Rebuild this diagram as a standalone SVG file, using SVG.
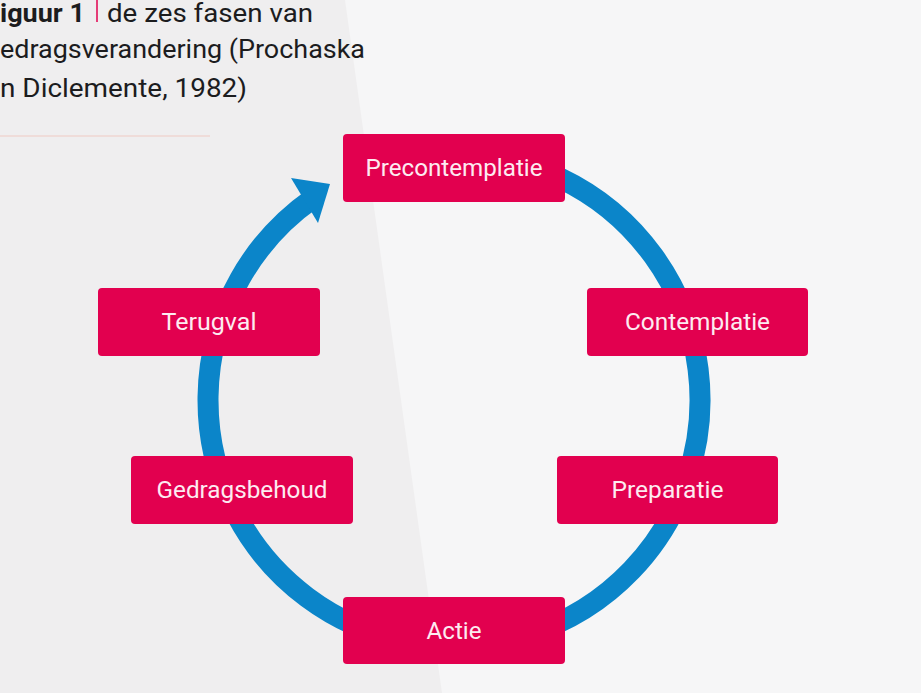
<svg xmlns="http://www.w3.org/2000/svg" width="921" height="693" viewBox="0 0 921 693">
  <style>
    .box { fill: #e2004f; }
    .lbl { font-family: "Roboto", "Liberation Sans", sans-serif; font-size: 24px; fill: #fdebf1; text-anchor: middle; }
    .title { font-family: "Roboto", "Liberation Sans", sans-serif; font-size: 25px; fill: #1c1c1e; }
    .ring { fill: none; stroke: #0b85c9; stroke-width: 21; }
  </style>
  <rect x="0" y="0" width="921" height="693" fill="#f6f6f7"/>
  <polygon points="0,0 345,0 442,693 0,693" fill="#efeeef"/>

  <g id="title">
    <text class="title" x="0" y="22" font-size="23" font-weight="bold" textLength="85" lengthAdjust="spacingAndGlyphs">iguur 1</text>
    <line x1="97" y1="0" x2="97" y2="22" stroke="#e2004f" stroke-width="1.5"/>
    <text class="title" x="107" y="22" font-size="23" textLength="206" lengthAdjust="spacingAndGlyphs">de zes fasen van</text>
    <text class="title" x="0" y="58" textLength="365" lengthAdjust="spacingAndGlyphs">edragsverandering (Prochaska</text>
    <text class="title" x="0" y="97" textLength="247" lengthAdjust="spacingAndGlyphs">n Diclemente, 1982)</text>
    <line x1="0" y1="136" x2="210" y2="136" stroke="#f0c9c4" stroke-width="1.2"/>
  </g>

  <g id="connectors">
    <path class="ring" d="M 454 154 A 246 246 0 1 1 312.9 198.5"/>
    <polygon points="330,184 291,178 318,223" fill="#0b85c9"/>
  </g>

  <g id="precontemplatie">
    <rect class="box" x="343" y="134" width="222" height="68" rx="4"/>
    <text class="lbl" x="454" y="176" textLength="177" lengthAdjust="spacingAndGlyphs">Precontemplatie</text>
  </g>
  <g id="contemplatie">
    <rect class="box" x="587" y="288" width="221" height="68" rx="4"/>
    <text class="lbl" x="697.5" y="330" textLength="145" lengthAdjust="spacingAndGlyphs">Contemplatie</text>
  </g>
  <g id="preparatie">
    <rect class="box" x="557" y="456" width="221" height="68" rx="4"/>
    <text class="lbl" x="667.5" y="498" textLength="112" lengthAdjust="spacingAndGlyphs">Preparatie</text>
  </g>
  <g id="actie">
    <rect class="box" x="343" y="597" width="222" height="67" rx="4"/>
    <text class="lbl" x="454" y="639" textLength="55" lengthAdjust="spacingAndGlyphs">Actie</text>
  </g>
  <g id="gedragsbehoud">
    <rect class="box" x="131" y="456" width="222" height="68" rx="4"/>
    <text class="lbl" x="242" y="498" textLength="171" lengthAdjust="spacingAndGlyphs">Gedragsbehoud</text>
  </g>
  <g id="terugval">
    <rect class="box" x="98" y="288" width="222" height="68" rx="4"/>
    <text class="lbl" x="209" y="330" textLength="95" lengthAdjust="spacingAndGlyphs">Terugval</text>
  </g>
</svg>
